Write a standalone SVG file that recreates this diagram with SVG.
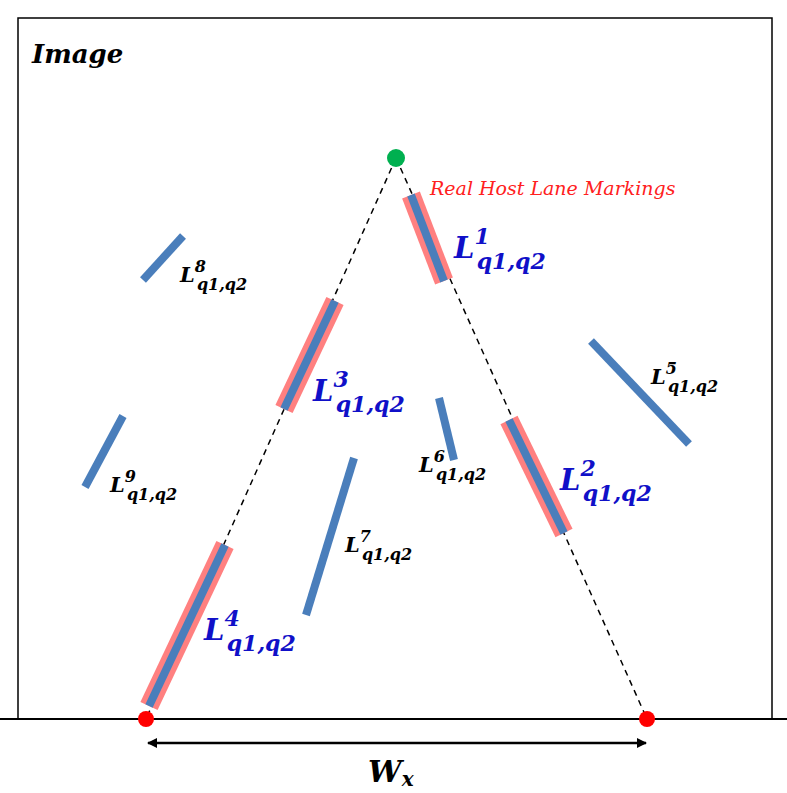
<svg xmlns="http://www.w3.org/2000/svg" width="787" height="793" viewBox="0 0 787 793">
<defs>
<style>
.red{stroke:#ff8080;stroke-width:19;stroke-linecap:butt}
.blue{stroke:#4a7ebb;stroke-width:8;stroke-linecap:butt}
.dash{stroke:#000;stroke-width:1.5;stroke-dasharray:6,5;fill:none}
.lb{font-family:"DejaVu Serif",serif;font-weight:bold;font-style:italic;fill:#1010c8}
.lk{font-family:"DejaVu Serif",serif;font-weight:bold;font-style:italic;fill:#000}
</style>
<marker id="ah" viewBox="0 0 10 10" refX="9" refY="5" markerWidth="12" markerHeight="10" markerUnits="userSpaceOnUse" orient="auto-start-reverse"><path d="M0,0L10,5L0,10z" fill="#000"/></marker>
</defs>
<rect x="18" y="18" width="754" height="701" fill="#fff" stroke="#000" stroke-width="1.5"/>
<line x1="0" y1="719" x2="787" y2="719" stroke="#000" stroke-width="2"/>
<text x="32" y="63" font-family="DejaVu Serif,serif" font-weight="bold" font-style="italic" font-size="26">Image</text>
<g id="connectors">
<line class="dash" x1="396" y1="158" x2="146" y2="719"/>
<line class="dash" x1="396" y1="158" x2="647" y2="719"/>
<line x1="148" y1="743" x2="646" y2="743" stroke="#000" stroke-width="2.5" marker-start="url(#ah)" marker-end="url(#ah)"/>
</g>
<g id="L1"><line class="red" x1="411" y1="195" x2="444" y2="281"/><line class="blue" x1="411" y1="195" x2="444" y2="281"/></g>
<g id="L2"><line class="red" x1="509" y1="420" x2="564" y2="533"/><line class="blue" x1="509" y1="420" x2="564" y2="533"/></g>
<g id="L3"><line class="red" x1="335" y1="301" x2="284" y2="409"/><line class="blue" x1="335" y1="301" x2="284" y2="409"/></g>
<g id="L4"><line class="red" x1="225" y1="545" x2="149" y2="706"/><line class="blue" x1="225" y1="545" x2="149" y2="706"/></g>
<g id="L5"><line class="blue" x1="591" y1="341" x2="689" y2="444"/></g>
<g id="L6"><line class="blue" x1="439" y1="398" x2="454" y2="460"/></g>
<g id="L7"><line class="blue" x1="354" y1="458" x2="306" y2="615"/></g>
<g id="L8"><line class="blue" x1="183" y1="236" x2="143" y2="280"/></g>
<g id="L9"><line class="blue" x1="123" y1="416" x2="85" y2="487"/></g>
<circle id="apex" cx="396" cy="158" r="9" fill="#00b050"/>
<circle id="p1" cx="146" cy="719" r="8" fill="#ff0000"/>
<circle id="p2" cx="647" cy="719" r="8" fill="#ff0000"/>
<text x="430" y="195" font-family="DejaVu Serif,serif" font-style="italic" font-size="19" fill="#ff2020">Real Host Lane Markings</text>
<text class="lb" x="454" y="258" font-size="29">L<tspan dy="-14" font-size="22">1</tspan><tspan dx="-13" dy="25" font-size="22">q1,q2</tspan></text>
<text class="lb" x="560" y="490" font-size="29">L<tspan dy="-14" font-size="22">2</tspan><tspan dx="-13" dy="25" font-size="22">q1,q2</tspan></text>
<text class="lb" x="313" y="401" font-size="29">L<tspan dy="-14" font-size="22">3</tspan><tspan dx="-13" dy="25" font-size="22">q1,q2</tspan></text>
<text class="lb" x="204" y="640" font-size="29">L<tspan dy="-14" font-size="22">4</tspan><tspan dx="-13" dy="25" font-size="22">q1,q2</tspan></text>
<text class="lk" x="651" y="384" font-size="21">L<tspan dy="-10" font-size="16">5</tspan><tspan dx="-9" dy="18" font-size="16">q1,q2</tspan></text>
<text class="lk" x="419" y="472" font-size="21">L<tspan dy="-10" font-size="16">6</tspan><tspan dx="-9" dy="18" font-size="16">q1,q2</tspan></text>
<text class="lk" x="345" y="552" font-size="21">L<tspan dy="-10" font-size="16">7</tspan><tspan dx="-9" dy="18" font-size="16">q1,q2</tspan></text>
<text class="lk" x="180" y="282" font-size="21">L<tspan dy="-10" font-size="16">8</tspan><tspan dx="-9" dy="18" font-size="16">q1,q2</tspan></text>
<text class="lk" x="110" y="492" font-size="21">L<tspan dy="-10" font-size="16">9</tspan><tspan dx="-9" dy="18" font-size="16">q1,q2</tspan></text>
<text x="368" y="782" font-family="DejaVu Serif,serif" font-weight="bold" font-style="italic" font-size="30">W<tspan font-size="20" dy="4">x</tspan></text>
</svg>
